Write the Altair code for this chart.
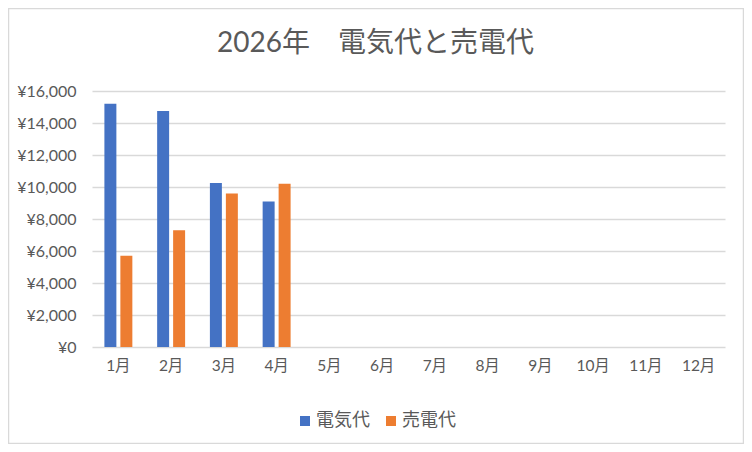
import altair as alt
import pandas as pd

months = [f"{i}月" for i in range(1, 13)]
data_months = ["1月", "2月", "3月", "4月"]
series = ["電気代", "売電代"]
electricity = [15200, 14750, 10250, 9100]
sold = [5700, 7300, 9600, 10200]
title_text = "2026年　電気代と売電代"

rows = []
for m, e, s in zip(data_months, electricity, sold):
    rows.append({"month": m, "series": series[0], "value": e})
    rows.append({"month": m, "series": series[1], "value": s})
df = pd.DataFrame(rows)

FONT = "Lato, Noto Sans CJK JP"
GRAY = "#595959"

bars = alt.Chart(df).mark_bar().encode(
    x=alt.X("month:N", sort=months,
            scale=alt.Scale(domain=months, paddingInner=0.47, paddingOuter=0.235),
            axis=alt.Axis(title=None, labelAngle=0, domain=False, ticks=False,
                          labelPadding=11, labelFontSize=15.5, labelColor=GRAY, labelFont=FONT)),
    xOffset=alt.XOffset("series:N", sort=series,
                        scale=alt.Scale(domain=series, paddingInner=0.25, paddingOuter=0)),
    y=alt.Y("value:Q", scale=alt.Scale(domain=[0, 16000]),
            axis=alt.Axis(title=None, values=list(range(0, 16001, 2000)),
                          labelExpr='"¥" + format(datum.value, ",")',
                          domain=False, ticks=False, labelPadding=16,
                          labelFontSize=16, labelColor=GRAY, labelFont=FONT,
                          gridColor="#D9D9D9", gridWidth=1.3)),
    color=alt.Color("series:N", sort=series,
                    scale=alt.Scale(domain=series, range=["#4472C4", "#ED7D31"]),
                    legend=alt.Legend(title=None, orient="none", direction="horizontal",
                                      legendX=204, legendY=321, symbolType="square",
                                      symbolSize=100, symbolStrokeWidth=0,
                                      labelFontSize=18, labelColor=GRAY, labelFont=FONT,
                                      labelOffset=2, columnPadding=12)),
)

title = alt.Chart(pd.DataFrame({"t": [title_text]})).mark_text(
    font=FONT, fontSize=28, color=GRAY, align="center", baseline="alphabetic", clip=False
).encode(text="t:N", x=alt.value(283.5), y=alt.value(-39))

border = alt.Chart(pd.DataFrame({"a": [0]})).mark_rect(
    fill=None, stroke="#D9D9D9", strokeWidth=1.5, clip=False
).encode(x=alt.value(-83.5), x2=alt.value(651.5), y=alt.value(-82.5), y2=alt.value(352.5))

chart = alt.layer(bars, title, border).properties(
    width=633, height=256,
    autosize=alt.AutoSizeParams(type="none"),
    padding={"left": 84, "top": 83, "right": 19, "bottom": 97},
).configure_view(stroke=None)

chart.save("out.html", embed_options={"renderer": "svg", "actions": False})
